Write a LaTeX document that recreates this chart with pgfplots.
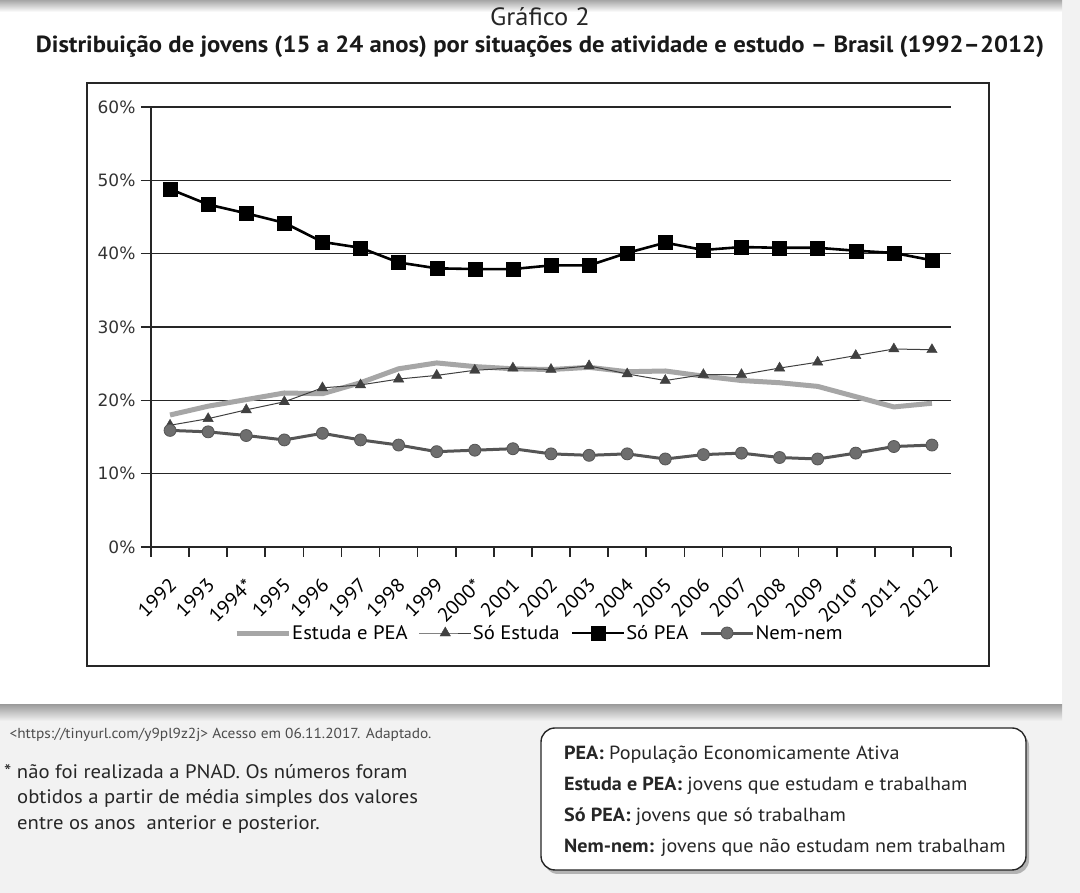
\documentclass[border=0pt]{standalone}
\usepackage{pgfplots}
\pgfplotsset{compat=1.18}
\usepackage{pgfplotstable}
\usepackage{fontspec}
\usetikzlibrary{shadows}
\setmainfont{PT Sans}
\newfontfamily\cond[FakeStretch=1.06]{PT Sans}
\newfontfamily\tickfont{DejaVu Sans}

\definecolor{estpea}{HTML}{A6A6A6}
\definecolor{soest}{HTML}{404040}
\definecolor{nemnem}{HTML}{555555}
\definecolor{nemfill}{HTML}{6E6E6E}
\definecolor{pagebg}{HTML}{F2F2F2}

% columns: x (category centre), estuda e PEA, so estuda, so PEA, nem-nem
\pgfplotstableread{
x     ep    se    sp    nn
0.5   18.0  16.6  48.8  15.9
1.5   19.2  17.5  46.7  15.7
2.5   20.1  18.7  45.5  15.2
3.5   21.0  19.8  44.2  14.6
4.5   20.9  21.7  41.6  15.5
5.5   22.4  22.1  40.8  14.6
6.5   24.3  22.9  38.8  13.9
7.5   25.1  23.4  38.0  13.0
8.5   24.6  24.1  37.9  13.2
9.5   24.3  24.4  37.9  13.4
10.5  24.2  24.2  38.4  12.7
11.5  24.5  24.7  38.4  12.5
12.5  23.9  23.6  40.1  12.7
13.5  24.0  22.7  41.5  12.0
14.5  23.3  23.5  40.5  12.6
15.5  22.7  23.5  40.9  12.8
16.5  22.4  24.4  40.8  12.2
17.5  21.9  25.2  40.8  12.0
18.5  20.5  26.1  40.4  12.8
19.5  19.1  27.0  40.1  13.7
20.5  19.6  26.9  39.1  13.9
}\jovens

\begin{document}
\begin{tikzpicture}[x=1pt,y=1pt]
% page background and the scanned sheet
\fill[pagebg] (0,0) rectangle (1080,893);
\fill[white] (0,188) rectangle (1062,883);
\shade[top color=gray!70, bottom color=white] (0,893) rectangle (1062,881);
\shade[top color=gray!75, bottom color=pagebg] (0,188) rectangle (1062,172);

\node[font=\cond\fontsize{25}{27}\selectfont, text=black!85] at (540,876) {Gráfico 2};
\node[font=\cond\bfseries\fontsize{23.3}{26}\selectfont, text=black!90] at (540,846)
  {Distribuição de jovens (15 a 24 anos) por situações de atividade e estudo – Brasil (1992–2012)};

\draw[line width=1.3pt, black!85] (87,810) rectangle (989,227);

\begin{axis}[
  at={(151pt,346pt)}, anchor=south west,
  scale only axis, width=800pt, height=440pt,
  xmin=0, xmax=21, ymin=0, ymax=60,
  axis x line*=bottom, axis y line*=left,
  axis line style={line width=1.6pt, black!85},
  xtick={0,...,21},
  x tick label as interval,
  xticklabels={1992,1993,1994*,1995,1996,1997,1998,1999,2000*,2001,2002,2003,2004,2005,2006,2007,2008,2009,2010*,2011,2012},
  xticklabel style={xshift=3pt, yshift=-25pt, rotate=45, anchor=east,
    font=\cond\fontsize{19.5}{22}\selectfont, inner sep=0pt},
  ytick={0,10,...,60},
  yticklabel={\pgfmathprintnumber{\tick}\%},
  yticklabel style={font=\tickfont\fontsize{17}{19}\selectfont, text=black!80, xshift=-2pt,
    /pgf/number format/assume math mode=true},
  tick align=outside, major tick length=10pt,
  tick style={line width=1.6pt, black!85},
  ymajorgrids, grid style={line width=1.3pt, black!85},
  legend columns=4,
  legend style={at={(0.485,-0.1955)}, anchor=center, draw=none, fill=none,
    font=\cond\fontsize{19.5}{22}\selectfont,
    /tikz/every even column/.append style={column sep=10pt},
    nodes={inner sep=1pt}},
  legend image code/.code={
    \draw[mark repeat=2, mark phase=2, #1] plot coordinates {(0pt,0pt) (26pt,0pt) (52pt,0pt)};
  },
]
\addplot[estpea, line width=5pt, no marks] table[x=x, y=ep] {\jovens};
\addlegendentry{Estuda e PEA}
\addplot[soest, line width=1pt, mark=triangle*, mark size=6pt, mark options={fill=soest, line width=0.4pt}] table[x=x, y=se] {\jovens};
\addlegendentry{Só Estuda}
\addplot[black, line width=2.6pt, mark=square*, mark size=7pt, mark options={fill=black, line width=0.4pt}] table[x=x, y=sp] {\jovens};
\addlegendentry{Só PEA}
\addplot[nemnem, line width=3pt, mark=*, mark size=6pt, mark options={fill=nemfill, draw=nemnem, line width=0.8pt}] table[x=x, y=nn] {\jovens};
\addlegendentry{Nem-nem}
\end{axis}

% source and note below the sheet
\node[anchor=west, font=\cond\fontsize{14.5}{16}\selectfont, text=black!70] at (6,158)
  {<https://tinyurl.com/y9pl9z2j> Acesso em 06.11.2017. Adaptado.};
\node[anchor=north west, align=left, font=\cond\fontsize{19.5}{25.5}\selectfont, text=black!85, inner sep=0pt] at (4,129)
  {* não foi realizada a PNAD. Os números foram\\
   \hspace*{13pt}obtidos a partir de média simples dos valores\\
   \hspace*{13pt}entre os anos\ \ anterior e posterior.};

% glossary box
\draw[line width=1.4pt, black!85, fill=white, rounded corners=14pt,
  drop shadow={shadow xshift=3pt, shadow yshift=-4pt, opacity=0.55}]
  (541,165) rectangle (1026,23);
\node[anchor=north west, align=left, font=\cond\fontsize{19}{30.8}\selectfont, text=black!85, inner sep=0pt] at (564,147)
  {\textbf{PEA:} População Economicamente Ativa\\
   \textbf{Estuda e PEA:} jovens que estudam e trabalham\\
   \textbf{Só PEA:} jovens que só trabalham\\
   \textbf{Nem-nem:} jovens que não estudam nem trabalham};
\end{tikzpicture}
\end{document}
